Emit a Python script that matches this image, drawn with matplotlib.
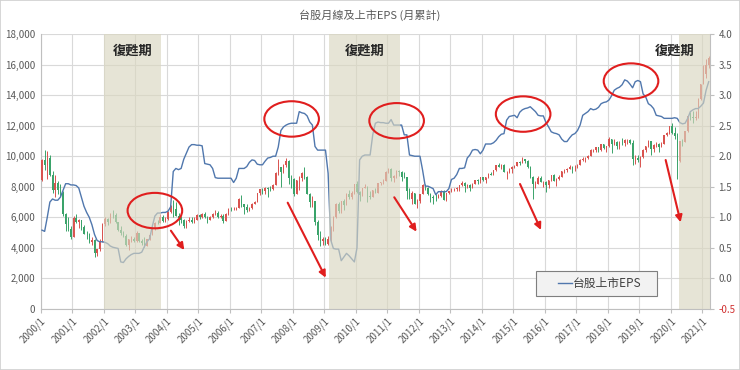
import matplotlib
matplotlib.use("Agg")
import matplotlib.pyplot as plt
from matplotlib.patches import Ellipse, Rectangle
from matplotlib.lines import Line2D
from matplotlib.ticker import FuncFormatter, MultipleLocator

plt.rcParams['font.family'] = ['Noto Sans CJK TC', 'DejaVu Sans']

# 台股月線 2000/1 ~ 2021/3 (收盤 / 最高 / 最低), 開盤 = 上月收盤
first_open = 8448
close = [
    9744, 9436, 9854, 8799, 7776, 8265, 7811, 7616, 6185, 5545, 5256, 4739,
    5936, 5674, 5797, 5381, 4936, 4883, 4352, 4500, 3636, 3903, 4441, 5551,
    5872, 5685, 6167, 6155, 5675, 5153, 4941, 4765, 4191, 4579, 4580, 4452,
    4941, 4432, 4321, 4148, 4555, 4873, 5319, 5650, 5611, 6045, 5771, 5891,
    6375, 6751, 6522, 6117, 5977, 5840, 5420, 5766, 5845, 5706, 5845, 6140,
    5995, 6208, 6005, 5819, 6012, 6241, 6312, 6033, 6118, 5765, 6204, 6548,
    6533, 6562, 6614, 7171, 6847, 6704, 6454, 6612, 6884, 7021, 7567, 7823,
    7699, 7902, 7884, 7875, 8145, 8883, 9287, 8982, 9438, 9711, 8586, 8506,
    7521, 8412, 8572, 8919, 8619, 7523, 7024, 7046, 5719, 4870, 4460, 4591,
    4248, 4557, 5211, 5992, 6890, 6432, 7078, 6826, 7509, 7340, 7582, 8188,
    7640, 7436, 7920, 8004, 7374, 7329, 7761, 7616, 8238, 8287, 8372, 8973,
    9145, 8600, 8683, 9007, 8988, 8653, 8644, 7741, 7225, 7588, 6904, 7072,
    7517, 8121, 7933, 7501, 7301, 7296, 7270, 7398, 7715, 7166, 7581, 7700,
    7850, 7880, 7919, 8093, 8254, 8062, 8108, 7915, 8174, 8450, 8407, 8612,
    8463, 8640, 8849, 8792, 9075, 9393, 9316, 9436, 8966, 8974, 9187, 9307,
    9361, 9622, 9586, 9820, 9701, 9323, 8665, 8174, 8181, 8554, 8320, 8338,
    8145, 8411, 8745, 8377, 8535, 8666, 9008, 9068, 9166, 9290, 9240, 9253,
    9447, 9750, 9811, 9872, 10040, 10395, 10427, 10585, 10383, 10793, 10560, 10642,
    11103, 10815, 10919, 10657, 10875, 10836, 11057, 11063, 10875, 9802, 9888, 9727,
    9932, 10389, 10641, 10968, 10498, 10731, 10824, 10618, 10829, 11358, 11489, 11997,
    11495, 11292, 9708, 10992, 10943, 11621, 12665, 12592, 12516, 12546, 13723, 14732,
    15410, 15953, 16431,
]
high = [
    9800, 10393, 10328, 10100, 9000, 8800, 8400, 8200, 7700, 6300, 6000, 5400,
    6100, 6200, 5900, 5800, 5500, 5100, 4950, 4700, 4550, 3950, 4600, 5650,
    6000, 5950, 6300, 6484, 6250, 5700, 5400, 5100, 4900, 4600, 4800, 4700,
    5100, 4950, 4600, 4700, 4600, 5000, 5500, 5700, 5850, 6200, 6150, 6000,
    6400, 6800, 7135, 7034, 6300, 6100, 5900, 5800, 6050, 6050, 6000, 6200,
    6200, 6300, 6350, 6100, 6100, 6300, 6480, 6400, 6200, 6200, 6250, 6600,
    6700, 6700, 6700, 7250, 7474, 6900, 6900, 6700, 6950, 7100, 7600, 7850,
    7950, 8000, 8000, 8050, 8200, 8950, 9807, 9300, 9500, 9859, 9750, 8800,
    8550, 8450, 8700, 8950, 9309, 8700, 7600, 7400, 7100, 5800, 5100, 4700,
    4700, 4750, 5400, 6100, 6950, 7000, 7100, 7200, 7600, 7811, 7700, 8200,
    8395, 7700, 7950, 8200, 8050, 7700, 7800, 7900, 8250, 8300, 8500, 9000,
    9220, 9200, 8800, 9100, 9100, 9000, 8950, 8650, 7900, 7700, 7600, 7200,
    7550, 8170, 8170, 8000, 7600, 7450, 7500, 7550, 7780, 7800, 7600, 7750,
    7900, 7950, 8000, 8100, 8400, 8300, 8200, 8200, 8250, 8470, 8480, 8650,
    8650, 8650, 8880, 8950, 9100, 9400, 9560, 9480, 9500, 9050, 9200, 9350,
    9450, 9650, 9700, 9973, 9850, 9750, 9350, 8700, 8400, 8700, 8700, 8400,
    8350, 8450, 8800, 8850, 8550, 8750, 9050, 9150, 9200, 9400, 9350, 9400,
    9500, 9800, 9950, 9950, 10100, 10500, 10500, 10600, 10600, 10800, 10800, 10650,
    11270, 11150, 11100, 11000, 11000, 11200, 11100, 11150, 11100, 11050, 10050, 10050,
    10000, 10450, 10650, 11050, 11000, 10800, 10950, 10850, 10950, 11400, 11600, 12000,
    12197, 11900, 11500, 11000, 11100, 11650, 12700, 12900, 12950, 12950, 13800, 14760,
    16000, 16341, 16579,
]
low = [
    8400, 9100, 8500, 8700, 7600, 7300, 7500, 7400, 6100, 5100, 5100, 4550,
    4700, 5600, 5300, 5200, 4900, 4600, 4300, 4200, 3411, 3450, 3800, 4400,
    5400, 5500, 5650, 5950, 5600, 5100, 4850, 4700, 4150, 3850, 4400, 4400,
    4400, 4400, 4200, 4044, 4100, 4500, 4850, 5150, 5550, 5600, 5700, 5700,
    5850, 6300, 6000, 6100, 5500, 5600, 5300, 5300, 5700, 5650, 5650, 5800,
    5900, 5950, 5950, 5600, 5800, 5980, 6150, 5950, 5950, 5620, 5750, 6150,
    6400, 6450, 6450, 6600, 6700, 6230, 6350, 6400, 6550, 6850, 7000, 7450,
    7550, 7500, 7300, 7750, 7800, 8100, 8800, 7987, 8900, 9300, 8200, 7900,
    7384, 7500, 7800, 8400, 8500, 7500, 6700, 6700, 5500, 4500, 4100, 4200,
    4164, 4200, 4400, 5100, 5950, 6300, 6300, 6500, 6800, 7200, 7200, 7550,
    7600, 7080, 7400, 7900, 7032, 7200, 7300, 7600, 7600, 8100, 8200, 8350,
    8900, 8400, 8300, 8600, 8700, 8400, 8550, 7200, 7200, 6900, 6850, 6609,
    6950, 7500, 7800, 7450, 7000, 6857, 7050, 7250, 7350, 7150, 7050, 7550,
    7650, 7750, 7700, 7750, 8080, 7650, 7950, 7750, 7900, 8150, 8200, 8250,
    8350, 8250, 8600, 8750, 8750, 9000, 9300, 9150, 8950, 8500, 8900, 8900,
    9200, 9350, 9450, 9550, 9550, 9200, 8550, 7203, 7900, 8150, 8300, 8000,
    7627, 7950, 8400, 8350, 8050, 8450, 8650, 8900, 8950, 9150, 8900, 9050,
    9200, 9400, 9700, 9650, 9800, 10000, 10250, 10250, 10300, 10350, 10450, 10250,
    10600, 10190, 10750, 10450, 10500, 10750, 10700, 10800, 10800, 9400, 9500, 9600,
    9319, 9900, 10250, 10600, 10100, 10300, 10600, 10300, 10600, 10800, 11300, 11450,
    11450, 11100, 8523, 9650, 10700, 10900, 11600, 12350, 12200, 12400, 12500, 13700,
    14700, 15100, 15800,
]

# 台股上市EPS (月累計), 右軸
eps = [
    0.79, 0.77, 1.00, 1.25, 1.30, 1.28, 1.28, 1.33, 1.44, 1.55, 1.55, 1.53,
    1.53, 1.52, 1.48, 1.33, 1.18, 1.08, 1.00, 0.88, 0.72, 0.62, 0.60, 0.60,
    0.59, 0.57, 0.53, 0.51, 0.50, 0.49, 0.27, 0.26, 0.32, 0.36, 0.39, 0.41,
    0.41, 0.41, 0.43, 0.52, 0.60, 0.65, 0.85, 1.02, 1.07, 1.07, 1.08, 1.08,
    1.10, 1.17, 1.75, 1.80, 1.78, 1.80, 1.95, 2.05, 2.15, 2.19, 2.19, 2.18,
    2.18, 2.17, 1.88, 1.87, 1.86, 1.80, 1.65, 1.64, 1.64, 1.64, 1.64, 1.64,
    1.64, 1.57, 1.64, 1.80, 1.80, 1.80, 1.83, 1.90, 1.94, 1.93, 1.87, 1.86,
    1.86, 1.92, 1.97, 1.98, 2.00, 2.00, 2.15, 2.42, 2.48, 2.51, 2.53, 2.54,
    2.54, 2.54, 2.73, 2.71, 2.70, 2.66, 2.56, 2.51, 2.16, 2.10, 2.10, 2.10,
    2.10, 1.72, 0.63, 0.49, 0.48, 0.48, 0.29, 0.35, 0.41, 0.37, 0.32, 0.27,
    0.50, 1.94, 2.00, 2.02, 2.02, 2.02, 2.35, 2.54, 2.56, 2.55, 2.55, 2.54,
    2.54, 2.60, 2.51, 2.51, 2.51, 2.51, 2.35, 2.35, 2.02, 2.01, 2.00, 2.00,
    2.00, 1.77, 1.51, 1.51, 1.49, 1.47, 1.37, 1.42, 1.42, 1.42, 1.42, 1.47,
    1.62, 1.64, 1.70, 1.80, 1.80, 1.81, 1.97, 2.02, 2.10, 2.11, 2.10, 2.04,
    2.10, 2.20, 2.20, 2.20, 2.22, 2.26, 2.32, 2.36, 2.37, 2.59, 2.65, 2.66,
    2.67, 2.63, 2.72, 2.76, 2.78, 2.79, 2.81, 2.77, 2.73, 2.67, 2.66, 2.66,
    2.55, 2.48, 2.40, 2.38, 2.37, 2.35, 2.28, 2.24, 2.24, 2.30, 2.35, 2.37,
    2.42, 2.51, 2.67, 2.70, 2.73, 2.78, 2.76, 2.77, 2.80, 2.86, 2.88, 2.89,
    2.92, 2.99, 3.08, 3.11, 3.13, 3.17, 3.25, 3.23, 3.18, 3.12, 3.22, 3.24,
    3.22, 3.02, 2.97, 2.86, 2.83, 2.78, 2.67, 2.66, 2.65, 2.62, 2.62, 2.62,
    2.62, 2.63, 2.62, 2.55, 2.53, 2.54, 2.62, 2.73, 2.76, 2.78, 2.78, 2.82,
    2.87, 3.08, 3.22,
]

year_labels = ["%d/1" % y for y in range(2000, 2022)]

# 復甦期 (起, 迄) 月份索引, 0 = 2000/1
recovery = [(24, 45), (110, 136), (243, 254)]
recovery_text_x = [34.5, 123.0, 248.5]

# 圈選 EPS 高點 (月份索引, EPS)
circles = [(43.0, 1.11), (95.1, 2.61), (135.1, 2.58), (183.3, 2.69), (224.4, 3.23)]
# 下跌箭頭 (起點月, 起點指數, 終點月, 終點指數)
arrows = [
    (49.1, 5125, 54.2, 3862),
    (93.6, 6957, 108.1, 2049),
    (134.2, 7311, 142.7, 5060),
    (182.1, 8181, 190.1, 5171),
    (237.6, 9752, 243.3, 5675),
]

open_ = [first_open] + close[:-1]
n = len(close)
x = list(range(n))

fig = plt.figure(figsize=(7.4, 3.7), dpi=100)
ax = fig.add_axes([0.055, 0.165, 0.9045, 0.743])
ax2 = ax.twinx()

up_c = '#d9534f'
dn_c = '#3aa36a'
cols = [up_c if c >= o else dn_c for o, c in zip(open_, close)]
ax.vlines(x, low, high, colors=cols, lw=0.7, zorder=2)
ax.bar(x, [abs(c - o) for o, c in zip(open_, close)],
       bottom=[min(o, c) for o, c in zip(open_, close)],
       width=0.5, color=cols, zorder=3)

ax.set_xlim(-0.5, n - 0.5)
ax.set_ylim(0, 18000)
ax.yaxis.set_major_locator(MultipleLocator(2000))
ax.yaxis.set_major_formatter(FuncFormatter(lambda v, p: "{:,.0f}".format(v)))
ax.set_xticks([12 * k - 0.5 for k in range(len(year_labels))])
ax.set_xticklabels(year_labels, rotation=45, ha='right', va='top',
                   rotation_mode='anchor', fontsize=7, color='#595959')
ax.tick_params(axis='x', length=3, color='#bfbfbf', pad=2)
ax.tick_params(axis='y', length=0, labelsize=7, labelcolor='#595959', pad=4)
ax.grid(True, color='#d9d9d9', lw=0.8)
ax.set_axisbelow(True)
for s in ['top', 'right']:
    ax.spines[s].set_visible(False)
for s in ['left', 'bottom']:
    ax.spines[s].set_color('#bfbfbf')

# EPS
ax2.plot(x, eps, color='#5077ad', lw=1.0, zorder=3)
ax2.set_ylim(-0.5, 4.0)
ax2.yaxis.set_major_locator(MultipleLocator(0.5))
ax2.yaxis.set_major_formatter(FuncFormatter(lambda v, p: "%.1f" % v))
ax2.tick_params(axis='y', length=3, color='#bfbfbf', labelsize=7,
                labelcolor='#595959', pad=3)
for lab in ax2.get_yticklabels():
    if lab.get_text().startswith('-') or lab.get_text().startswith('\u2212'):
        lab.set_color('#d03030')
for s in ['top', 'left', 'bottom']:
    ax2.spines[s].set_visible(False)
ax2.spines['right'].set_color('#bfbfbf')

# 復甦期 shading
for a, b in recovery:
    ax2.axvspan(a - 0.5, b + 0.5, color='#d9d6c0', alpha=0.65, lw=0, zorder=4)
for i, tx in enumerate(recovery_text_x):
    ax2.text(tx, 3.73, '復甦期', ha='right' if i == 2 else 'center',
             va='center', fontsize=9.5, fontweight='bold', color='#262626', zorder=6)

for cx, cy in circles:
    ax2.add_patch(Ellipse((cx, cy), 20.8, 0.58, fill=False, edgecolor='#e01e1e',
                          lw=1.5, zorder=6))
for x0, y0, x1, y1 in arrows:
    ax2.annotate('', xy=(x1, y1), xytext=(x0, y0),
                 xycoords=ax.transData, textcoords=ax.transData,
                 arrowprops=dict(arrowstyle='-|>', color='#e01e1e', lw=1.5,
                                 mutation_scale=10, shrinkA=0, shrinkB=0),
                 zorder=6)

# legend box (drawn by hand to match the wide Excel box)
ax2.add_patch(Rectangle((0.7396, 0.0484), 0.1808, 0.0906, transform=ax2.transAxes,
                        facecolor='#f2f2f2', edgecolor='#7f7f7f', lw=0.8, zorder=7))
ax2.add_line(Line2D([0.773, 0.794], [0.0945, 0.0945], transform=ax2.transAxes,
                    color='#5077ad', lw=1.0, zorder=8))
ax2.text(0.7955, 0.0945, '台股上市EPS', transform=ax2.transAxes, ha='left',
         va='center', fontsize=8.5, color='#404040', zorder=8)

fig.text(0.5, 0.958, '台股月線及上市EPS (月累計)', ha='center', va='center',
         fontsize=8, color='#595959')
fig.patches.append(Rectangle((0, 0), 1, 1, transform=fig.transFigure,
                             fill=False, edgecolor='#d0d0d0', lw=1.2))

fig.savefig('out.png', dpi=100)
